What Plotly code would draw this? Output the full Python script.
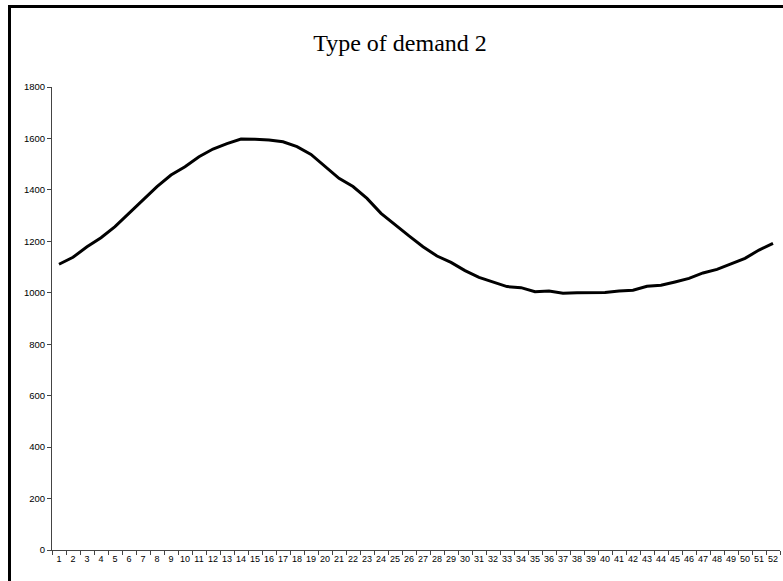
import plotly.graph_objects as go

weeks = [str(i) for i in range(1, 53)]
demand = [1111, 1138, 1179, 1214, 1257, 1309, 1357, 1413, 1458, 1490,
          1529, 1559, 1580, 1598, 1597, 1594, 1587, 1568, 1538, 1490,
          1445, 1413, 1367, 1309, 1264, 1221, 1179, 1143, 1118, 1086,
          1060, 1041, 1024, 1020, 1004, 1007, 998, 1000, 1000, 1001,
          1007, 1010, 1025, 1029, 1042, 1056, 1077, 1091, 1112, 1134,
          1166, 1192]
y_ticks = list(range(0, 2000, 200))

L, R, T, B = 52, 3, 87, 31
W, H = 783, 581
pw, ph = W - L - R, H - T - B

def px(x):
    return (x - L) / pw

def py(y):
    return (H - B - y) / ph

fig = go.Figure()
fig.add_trace(go.Scatter(x=weeks, y=demand, mode="lines",
                         line=dict(color="black", width=3)))

fig.update_layout(
    width=W, height=H,
    margin=dict(l=L, r=R, t=T, b=B),
    paper_bgcolor="white", plot_bgcolor="white",
    showlegend=False,
    title=dict(text="Type of demand 2", xref="container", x=400 / W, xanchor="center",
               yref="container", y=1 - 43 / H, yanchor="middle",
               font=dict(family="Liberation Serif", size=24, color="black")),
    xaxis=dict(type="category", range=[-0.5, 51.5], tickson="boundaries",
               tickangle=0,
               ticks="outside", ticklen=4, tickcolor="#444", showline=True,
               linecolor="#444", linewidth=1, showgrid=False, zeroline=False,
               tickfont=dict(family="Liberation Sans", size=9, color="black")),
    yaxis=dict(range=[0, 1800], tickvals=y_ticks, ticks="outside", ticklen=4,
               tickcolor="#444", showline=True, linecolor="#444", linewidth=1,
               showgrid=False, zeroline=False,
               tickfont=dict(family="Liberation Sans", size=9.5, color="black")),
)

fig.add_shape(type="rect", xref="paper", yref="paper",
              x0=px(9.5), x1=px(W + 30), y0=py(H + 30), y1=py(6.5),
              line=dict(color="black", width=3), fillcolor="rgba(0,0,0,0)",
              layer="above")

fig.write_html("out.html")
